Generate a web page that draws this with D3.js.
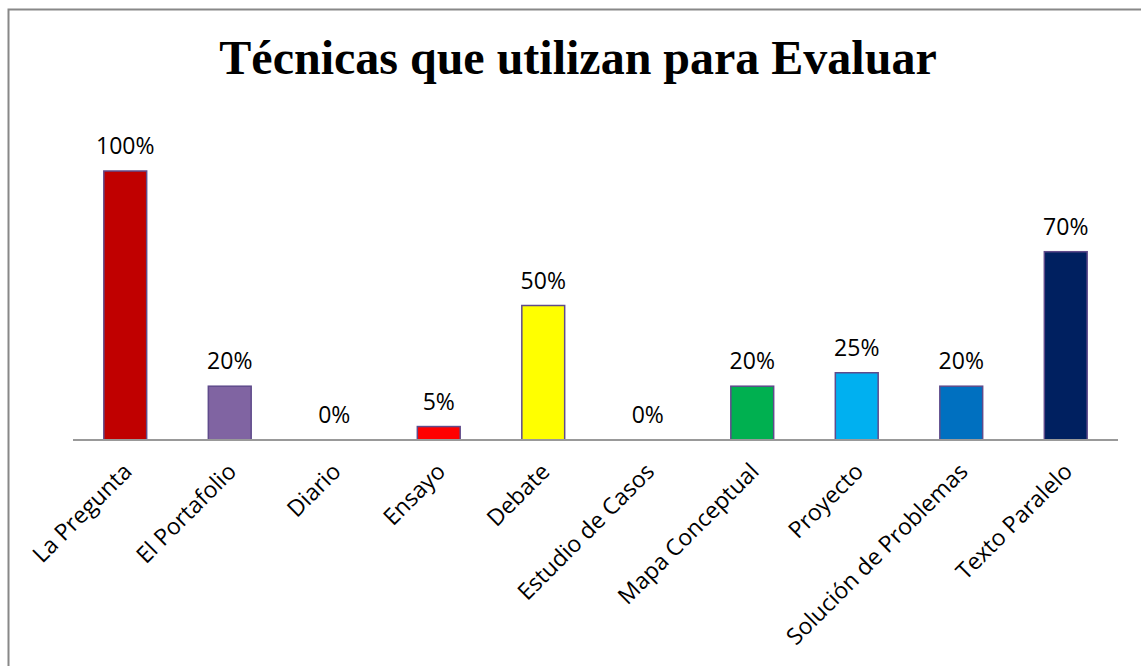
<!DOCTYPE html>
<html>
<head>
	<meta charset="utf-8">
	<script src="https://cdn.jsdelivr.net/npm/d3@7"></script>
	<style>
		html, body {
			padding: 0;
			margin: 0;
			background: white;
		}
	</style>
</head>
<body>
	<div id="chart"></div>
	<script>
		// data
		var categories = ["La Pregunta", "El Portafolio", "Diario", "Ensayo", "Debate",
			"Estudio de Casos", "Mapa Conceptual", "Proyecto", "Solución de Problemas", "Texto Paralelo"];
		var values = [1.00, 0.20, 0, 0.05, 0.50, 0, 0.20, 0.25, 0.20, 0.70];
		var barColors = ["#c00000", "#8064a2", "#8064a2", "#ff0000", "#ffff00",
			"#4f81bd", "#00b050", "#00b0f0", "#0070c0", "#002060"];
		var title = "Técnicas que utilizan para Evaluar";

		var width = 1141, height = 666;

		var svg = d3.select('#chart').append('svg')
			.attr('width', width)
			.attr('height', height)
			.style('display', 'block');

		// outer frame (top + left visible)
		svg.append('path')
			.attr('d', 'M8.5,' + height + 'V9.5H' + width)
			.attr('fill', 'none')
			.attr('stroke', '#888')
			.attr('stroke-width', 2);

		svg.append('text')
			.attr('x', 578)
			.attr('y', 74)
			.attr('text-anchor', 'middle')
			.style('font', 'bold 48px "Liberation Serif", "Times New Roman", serif')
			.text(title);

		var x = d3.scaleBand()
			.domain(categories)
			.range([73, 1118])
			.paddingInner(0.59)
			.paddingOuter(0.295);

		var y = d3.scaleLinear()
			.domain([0, 1])
			.range([440, 171]);

		var rows = categories.map(function(c, i) {
			return {name: c, value: values[i], color: barColors[i]};
		});

		// bars
		svg.selectAll('rect.bar')
			.data(rows.filter(function(d) { return d.value > 0; }))
			.enter().append('rect')
			.attr('class', 'bar')
			.attr('x', function(d) { return x(d.name); })
			.attr('y', function(d) { return y(d.value); })
			.attr('width', x.bandwidth())
			.attr('height', function(d) { return y(0) - y(d.value); })
			.attr('fill', function(d) { return d.color; })
			.attr('stroke', '#5f4b8b')
			.attr('stroke-width', 1.5);

		// baseline
		svg.append('line')
			.attr('x1', 73).attr('x2', 1118)
			.attr('y1', y(0)).attr('y2', y(0))
			.attr('stroke', '#999')
			.attr('stroke-width', 2);

		// value labels
		svg.selectAll('text.val')
			.data(rows)
			.enter().append('text')
			.attr('class', 'val')
			.attr('x', function(d) { return x(d.name) + x.bandwidth() / 2; })
			.attr('y', function(d) { return y(d.value) - 17; })
			.attr('text-anchor', 'middle')
			.style('font', '23px "Open Sans", sans-serif')
			.text(function(d) { return Math.round(d.value * 100) + '%'; });

		// category labels, rotated
		svg.selectAll('text.cat')
			.data(rows)
			.enter().append('text')
			.attr('class', 'cat')
			.attr('text-anchor', 'end')
			.attr('transform', function(d) {
				var cx = x(d.name) + x.bandwidth() / 2 + 8;
				return 'translate(' + cx + ',' + 473 + ') rotate(-45)';
			})
			.style('font', '23px "Open Sans", sans-serif')
			.text(function(d) { return d.name; });
	</script>
</body>
</html>
